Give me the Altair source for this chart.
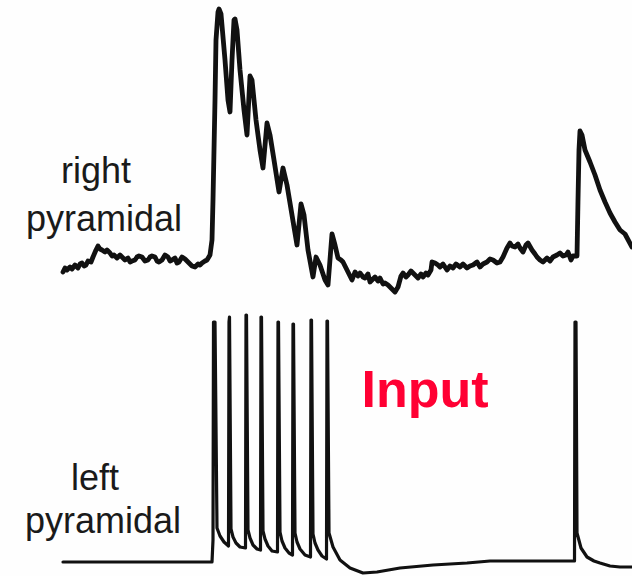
import altair as alt
import pandas as pd

# Upper trace: right pyramidal cell, (x, y) pairs
right_pts = [
    (63, 272), (65, 268), (67, 270), (70, 267), (72, 269), (75, 265), (78, 268), (80, 264),
    (82, 263), (84, 266), (86, 265), (88, 261), (91, 262), (93, 257), (96, 250), (98, 246),
    (100, 249), (102, 250), (105, 252), (107, 250), (110, 253), (112, 256), (114, 255),
    (117, 258), (120, 255), (122, 257), (125, 260), (128, 258), (130, 262), (132, 261),
    (135, 260), (137, 257), (139, 256), (142, 257), (145, 261), (148, 260), (150, 257),
    (152, 256), (155, 257), (157, 261), (159, 262), (162, 260), (165, 255), (168, 257),
    (170, 261), (172, 260), (175, 258), (177, 263), (179, 262), (182, 257), (185, 259),
    (188, 262), (190, 264), (192, 266), (195, 267), (198, 264), (200, 265), (202, 263),
    (205, 261), (207, 260), (210, 255),
    (212, 240), (213, 200), (214, 150), (215, 100), (216, 40), (218, 12), (219, 9), (221, 14),
    (225, 60), (228, 100), (230, 112), (232, 60), (234, 20), (235, 19), (237, 30), (240, 70),
    (244, 110), (247, 135), (250, 76), (252, 80), (256, 120), (260, 150), (263, 168),
    (267, 123), (270, 135), (274, 160), (279, 192), (283, 168), (287, 185), (292, 215),
    (297, 245), (301, 204), (304, 215), (308, 250), (313, 277), (316, 257), (320, 265),
    (325, 280), (328, 285), (332, 234), (335, 245), (338, 258),
    (341, 260), (343, 262), (346, 268), (348, 272), (352, 280), (355, 272), (358, 276),
    (360, 273), (363, 277), (365, 278), (368, 274), (370, 282), (373, 279), (375, 277),
    (378, 281), (380, 278), (383, 284), (385, 283), (388, 285), (390, 287), (393, 290),
    (395, 292), (398, 287), (401, 276), (403, 273), (406, 277), (408, 275), (411, 271),
    (413, 273), (416, 276), (418, 278), (421, 274), (423, 277), (426, 273), (428, 275),
    (431, 270), (432, 262), (435, 263), (438, 265), (440, 267), (443, 264), (447, 270),
    (450, 266), (453, 268), (456, 264), (460, 267), (463, 264), (467, 268), (470, 266),
    (473, 265), (477, 262), (480, 267), (483, 264), (487, 262), (490, 259), (493, 260),
    (497, 263), (500, 262), (503, 257), (507, 248), (510, 243), (512, 246), (515, 247),
    (518, 244), (520, 248), (523, 252), (526, 245), (528, 243), (532, 250), (535, 254),
    (537, 257), (540, 260), (543, 262), (547, 258), (550, 261), (553, 257), (557, 255),
    (560, 253), (563, 256), (566, 255), (568, 252), (571, 260), (573, 256),
    (577, 256), (578, 200), (579, 150), (580, 131), (582, 135), (585, 150), (590, 162),
    (595, 175), (600, 190), (605, 202), (610, 213), (615, 222), (620, 230), (625, 234),
    (632, 247),
]

# Lower trace: left pyramidal cell (spike train), (x, y) pairs
left_pts = [
    (63, 562), (212, 562), (213, 540), (213.5, 322), (215, 322), (217, 528), (220, 536),
    (224, 542), (228.5, 546),
    (229, 322), (229.5, 317), (231, 529), (233, 537), (236, 543), (240, 547), (245.5, 548),
    (246, 315), (246.5, 315), (248, 530), (250, 538), (253, 545), (257, 549), (260.5, 550),
    (261, 317), (261.5, 317), (263, 531), (265, 539), (268, 546), (272, 551), (277.5, 552),
    (278, 322), (278.5, 322), (280, 532), (282, 541), (285, 548), (289, 553), (292.5, 555),
    (293, 324), (293.5, 324), (295, 533), (297, 542), (300, 549), (305, 555), (310.5, 557),
    (311, 320), (311.5, 320), (313, 534), (315, 543), (318, 550), (322, 556), (326.5, 559),
    (327, 321), (327.5, 321), (329, 533), (333, 547), (340, 560), (350, 568), (363, 573),
    (377, 572), (400, 568), (433, 565), (467, 563), (490, 561), (533, 561), (573, 561),
    (574.5, 561), (575, 322), (576, 322), (577, 533), (581, 548), (587, 557), (594, 561),
    (600, 563), (610, 566), (620, 567), (632, 567),
]

W, H = 632, 576

right_df = pd.DataFrame(right_pts, columns=["x", "y"])
right_df["i"] = range(len(right_df))
left_df = pd.DataFrame(left_pts, columns=["x", "y"])
left_df["i"] = range(len(left_df))

xs = alt.Scale(domain=[0, W], nice=False, zero=False)
ys = alt.Scale(domain=[0, H], nice=False, zero=False, reverse=True)

def trace(df, width):
    return alt.Chart(df).mark_line(color="#111111", strokeWidth=width, strokeJoin="round",
                                   strokeCap="round").encode(
        x=alt.X("x:Q", scale=xs, axis=None),
        y=alt.Y("y:Q", scale=ys, axis=None),
        order=alt.Order("i:Q"),
    )

def label(txt, px, py, size, color="#1a1a1a", font="Liberation Sans", weight="normal"):
    return alt.Chart(pd.DataFrame({"t": [txt]})).mark_text(
        font=font, fontSize=size, fontWeight=weight, color=color, align="center",
        baseline="alphabetic").encode(
        text="t:N", x=alt.value(px), y=alt.value(py))

chart = alt.layer(
    trace(right_df, 4.8),
    trace(left_df, 3.2),
    label("right", 96, 183, 36),
    label("pyramidal", 104, 231, 36),
    label("left", 95, 490, 36),
    label("pyramidal", 103, 533, 36),
    label("Input", 425, 407, 52, color="#FF0033", weight="bold"),
).properties(
    width=W, height=H, padding=0, autosize=alt.AutoSizeParams(type="none"),
    background="#FEFEFE",
).configure_view(stroke=None)

chart.save("out.html", embed_options={"renderer": "svg", "actions": False})
